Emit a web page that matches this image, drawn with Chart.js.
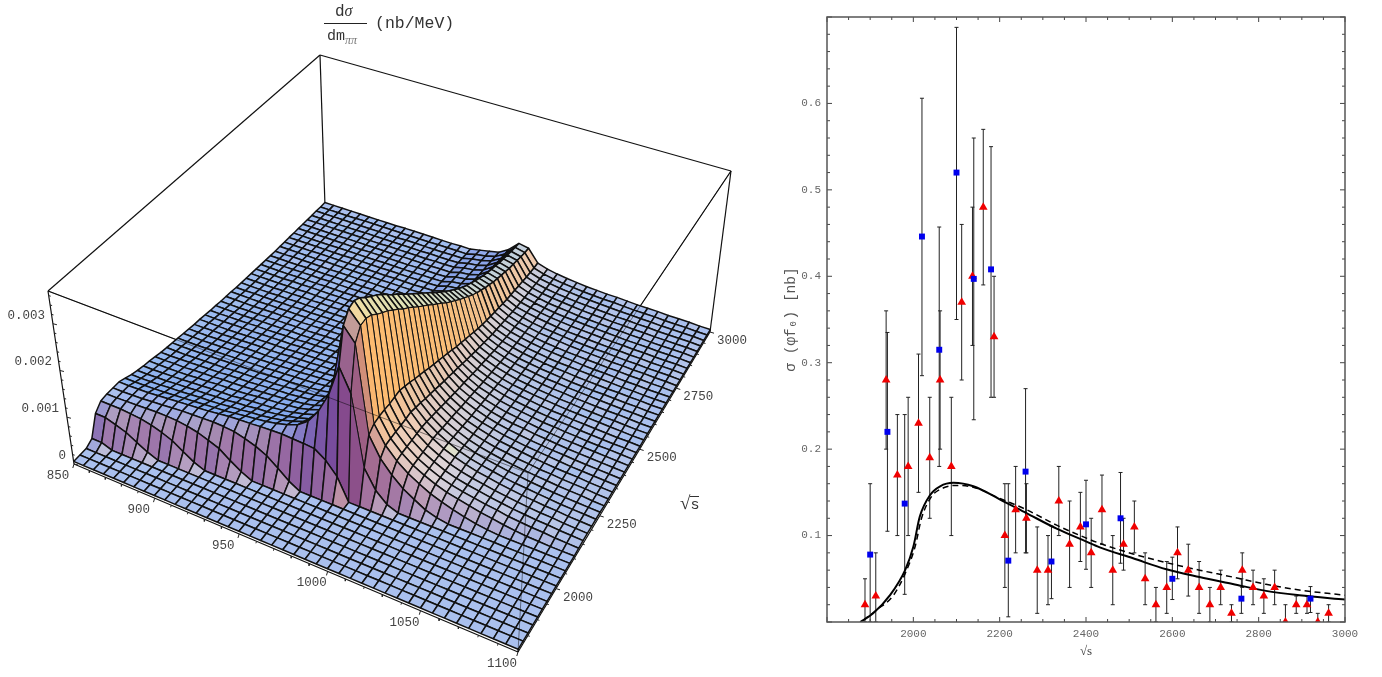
<!DOCTYPE html>
<html>
<head>
<meta charset="utf-8">
<title>dsigma surface and cross section</title>
<script src="https://cdn.jsdelivr.net/npm/chart.js@4"></script>
<style>
  html, body { margin: 0; padding: 0; background: #fff; }
  body { position: relative; width: 1382px; height: 677px; overflow: hidden; font-family: "Liberation Mono", monospace; }
  canvas { position: absolute; top: 0; }
  #surface { left: 0; }
  #cross { left: 760px; }
  .lbl { position: absolute; font-size: 12.5px; line-height: 14px; color: #444; white-space: nowrap; transform: translate(-50%, -50%); }
  .ttl { position: absolute; color: #333; white-space: nowrap; }
  #bar { position: absolute; left: 324px; top: 23px; width: 43px; height: 1px; background: #222; }
</style>
</head>
<body>
<canvas id="surface" width="746" height="677"></canvas>
<canvas id="cross" width="622" height="677"></canvas>
<div class="ttl" style="left:335px;top:2px;font-size:16px;">d<i style="font-family:'Liberation Serif'">σ</i></div>
<div id="bar"></div>
<div class="ttl" style="left:327px;top:28px;font-size:15px;">dm<sub style="font-size:12px;color:#777;font-family:'Liberation Serif';font-style:italic;">ππ</sub></div>
<div class="ttl" style="left:375px;top:14px;font-size:16.5px;">(nb/MeV)</div>
<div class="ttl" style="left:680px;top:492px;font-size:19px;font-family:'Liberation Serif';">√<span style="border-top:1px solid #333;font-family:'Liberation Mono';font-size:15px;">s</span></div>
<script>
// tick labels of the 3D box
const massTicks = [850, 900, 950, 1000, 1050, 1100];
const sqrtSTicks = [2000, 2250, 2500, 2750, 3000];
const zTicks = [0, 0.001, 0.002, 0.003];

// surface height, in units of 1e-5 nb/MeV
// one row per sqrt(s) = 1800, 1825, ... 3000, columns are m = 850, 856.25, ... 1100
const surfaceHeights = [
[0],[0],[0],
[8,8],
[49,49,42,34,21,9],
[63,63,63,61,59,54,47,38,23,9],
[65,65,66,67,68,69,69,68,65,60,52,43,26,11],
[65,65,66,67,69,71,73,75,76,77,78,77,75,69,61,50,32,13],
[65,65,66,67,69,71,73,75,77,79,82,85,87,88,90,91,92,91,90,88,72,46],
[60,60,61,62,63,65,67,69,71,73,75,78,81,84,87,92,98,107,124,155,200,270,220,69,30,9],
[55,55,56,57,59,60,62,64,65,67,70,72,75,77,81,85,92,100,118,150,222,345,315,126,84,58,38,24,11,4],
[51,51,52,53,55,56,58,59,61,62,65,67,70,72,75,79,85,92,108,138,222,368,340,136,98,74,56,43,31,23,16,10,5,2],
[48,48,49,50,51,53,54,56,57,58,61,63,65,67,70,74,80,87,100,134,223,372,342,138,99,76,59,47,37,29,24,19,14,11,7,4,2,1],
[46,46,46,47,48,50,51,53,54,55,57,60,62,64,67,70,76,84,96,131,219,365,336,138,99,76,59,47,37,30,25,21,17,14,10,8,6,5,3,2,1],
[43,43,44,44,46,47,48,50,51,52,54,56,58,60,63,66,71,80,92,127,211,352,324,137,99,76,59,47,37,30,25,21,17,14,11,9,7,6,4,3,2],
[40,40,41,42,43,44,45,47,48,49,51,53,55,56,59,62,67,76,89,123,205,341,314,138,99,76,59,47,37,30,25,21,17,14,11,9,7,6,4,3,2],
[38,38,38,39,40,41,42,44,45,46,48,49,51,53,55,58,63,73,86,119,199,331,305,139,100,76,60,47,38,31,25,21,17,14,11,9,7,6,4,3,2],
[36,36,36,37,38,39,40,41,42,43,45,47,48,50,52,55,59,70,83,115,191,319,293,134,96,74,58,46,36,29,24,20,16,13,11,9,7,5,4,3,2],
[34,34,34,35,36,37,38,39,40,41,43,44,46,47,49,52,56,67,80,110,184,306,282,129,93,71,55,44,35,28,23,19,15,13,10,8,6,5,4,3,2],
[32,32,32,33,34,35,36,37,38,39,40,42,43,45,47,49,53,64,76,105,175,292,269,123,88,68,53,42,33,27,22,18,15,12,10,8,6,5,4,2,1],
[30,30,30,31,32,33,34,35,35,36,38,39,40,42,44,46,50,62,73,101,169,281,259,118,85,65,51,40,32,26,21,18,14,12,9,8,6,5,4,2,1],
[28,28,29,29,30,31,32,33,33,34,36,37,38,40,41,44,47,59,70,96,161,268,247,113,81,62,49,38,31,25,20,17,14,11,9,7,6,5,3,2,1],
[27,27,27,27,28,29,30,31,32,32,34,35,36,37,39,41,44,56,66,92,153,255,235,107,77,59,46,36,29,24,19,16,13,11,9,7,5,4,3,2,1],
[25,25,25,26,27,27,28,29,30,30,32,33,34,35,37,39,42,53,63,87,146,243,224,102,73,56,44,35,28,22,18,15,12,10,8,7,5,4,3,2,1],
[23,23,24,24,25,26,26,27,28,28,30,31,32,33,34,36,39,51,60,83,139,231,213,97,70,53,42,33,26,21,17,15,12,10,8,6,5,4,3,2,1],
[22,22,22,22,23,24,24,25,26,26,27,28,29,30,32,34,36,48,57,79,131,219,201,92,66,51,40,31,25,20,17,14,11,9,7,6,5,4,3,2,1],
[20,20,20,21,21,22,23,23,24,24,25,26,27,28,29,31,33,46,54,75,124,207,190,87,63,48,37,30,23,19,16,13,10,9,7,6,4,3,3,2,1],
[19,19,19,19,20,21,21,22,22,23,24,25,26,26,28,29,31,43,51,70,117,195,179,82,59,45,35,28,22,18,15,12,10,8,7,5,4,3,2,2,1],
[18,18,18,18,19,19,20,20,21,21,22,23,24,25,26,27,29,40,47,66,109,182,167,76,55,42,33,26,21,17,14,11,9,8,6,5,4,3,2,2,1],
[16,16,17,17,17,18,18,19,19,20,21,21,22,23,24,25,27,38,44,62,103,171,157,72,52,40,31,24,19,16,13,11,9,7,6,5,4,3,2,1,1],
[15,15,15,15,16,16,17,17,18,18,19,20,20,21,22,23,25,35,42,58,96,160,147,67,48,37,29,23,18,15,12,10,8,7,5,4,3,3,2,1,1],
[14,14,14,14,15,15,16,16,17,17,18,18,19,20,20,22,23,33,39,54,89,149,137,63,45,35,27,21,17,14,11,9,8,6,5,4,3,3,2,1,1],
[13,13,13,13,14,14,15,15,15,16,16,17,18,18,19,20,22,31,36,50,83,139,128,58,42,32,25,20,16,13,10,9,7,6,5,4,3,2,2,1,1],
[12,12,12,12,13,13,14,14,14,15,15,16,16,17,18,19,20,28,34,46,77,129,119,54,39,30,23,18,15,12,10,8,6,5,4,4,3,2,2,1,1],
[11,11,11,11,12,12,12,13,13,13,14,14,15,15,16,17,18,26,31,43,72,120,110,50,36,28,22,17,14,11,9,8,6,5,4,3,3,2,2,1,1],
[10,10,10,10,11,11,11,12,12,12,13,13,14,14,15,16,17,25,29,40,67,112,103,47,34,26,20,16,13,10,8,7,6,5,4,3,2,2,1,1,1],
[9,9,9,9,10,10,10,11,11,11,11,12,12,13,13,14,15,23,27,38,63,105,97,44,32,24,19,15,12,10,8,7,5,4,4,3,2,2,1,1,1],
[8,8,9,9,9,9,9,10,10,10,11,11,11,12,12,13,14,22,25,35,59,98,90,41,30,23,18,14,11,9,7,6,5,4,3,3,2,2,1,1,0],
[8,8,8,8,8,9,9,9,9,9,10,10,11,11,11,12,13,20,24,33,55,92,85,39,28,21,17,13,11,9,7,6,5,4,3,3,2,2,1,1,0],
[7,7,7,7,8,8,8,8,8,9,9,9,10,10,10,11,12,19,22,31,52,86,79,36,26,20,15,12,10,8,6,5,4,4,3,2,2,1,1,1,0],
[7,7,7,7,7,7,7,8,8,8,8,9,9,9,10,10,11,18,21,29,49,81,75,34,24,19,15,12,9,7,6,5,4,3,3,2,2,1,1,1,0],
[6,6,6,6,6,7,7,7,7,7,8,8,8,8,9,9,10,17,20,28,46,77,71,32,23,18,14,11,9,7,6,5,4,3,3,2,2,1,1,1,0],
[6,6,6,6,6,6,6,6,7,7,7,7,7,8,8,8,9,16,19,26,44,73,67,31,22,17,13,10,8,7,6,5,4,3,2,2,2,1,1,1,0],
[5,5,5,5,5,6,6,6,6,6,6,7,7,7,7,8,8,15,18,25,41,69,63,29,21,16,12,10,8,6,5,4,3,3,2,2,1,1,1,1,0],
[5,5,5,5,5,5,5,5,5,6,6,6,6,6,7,7,8,14,17,24,40,66,61,28,20,15,12,10,8,6,5,4,3,3,2,2,1,1,1,1,0],
[4,4,4,4,4,4,5,5,5,5,5,5,5,6,6,6,7,13,16,23,38,63,58,26,19,14,11,9,7,6,5,4,3,3,2,2,1,1,1,1,0],
[4,4,4,4,4,4,4,4,4,4,5,5,5,5,5,6,6,12,16,22,36,60,55,25,18,14,11,9,7,6,5,4,3,3,2,2,1,1,1,1,0],
[3,3,3,3,3,4,4,4,4,4,4,4,4,5,5,5,5,11,15,21,35,58,53,24,17,13,10,8,6,5,4,4,3,2,2,2,1,1,1,0,0],
[3,3,3,3,3,3,3,3,3,4,4,4,4,4,4,5,5,10,15,20,34,56,52,24,17,13,10,8,6,5,4,4,3,2,2,2,1,1,1,0,0]
];

// right panel: triangles
const redX = [1888,1913,1937,1963,1988,2012,2038,2062,2088,2112,2137,2162,2187,2212,2237,2262,2287,2312,2337,2362,2387,2412,2437,2462,2487,2512,2537,2562,2587,2612,2637,2662,2687,2712,2737,2762,2787,2812,2837,2862,2887,2912,2937,2962];
const redY = [.02,.03,.28,.17,.18,.23,.19,.28,.18,.37,.40,.48,.33,.10,.13,.12,.06,.06,.14,.09,.11,.08,.13,.06,.09,.11,.05,.02,.04,.08,.06,.04,.02,.04,.01,.06,.04,.03,.04,0,.02,.02,0,.01];
const redLo = [0,0,.20,.10,.10,.15,.12,.20,.10,.28,.32,.39,.26,.04,.08,.08,.01,.02,.10,.04,.07,.04,.09,.02,.06,.08,.02,0,.01,.05,.03,.01,0,.02,0,.04,.02,.01,.02,0,.01,.01,0,0];
const redHi = [.05,.08,.36,.24,.26,.31,.26,.36,.26,.46,.48,.57,.40,.16,.18,.16,.11,.10,.18,.14,.15,.12,.17,.10,.12,.14,.08,.04,.07,.11,.09,.07,.04,.06,.02,.08,.06,.05,.06,.02,.03,.03,.01,.02];
// right panel: squares
const blueX = [1900,1940,1980,2020,2060,2100,2140,2180,2220,2260,2320,2400,2480,2600,2760,2920];
const blueY = [.078,.22,.137,.446,.315,.52,.397,.408,.071,.174,.07,.113,.12,.05,.027,.027];
const blueLo = [0,.105,.032,.285,.18,.35,.234,.26,.006,.08,.027,.061,.068,.026,.01,.011];
const blueHi = [.16,.335,.24,.606,.457,.688,.56,.55,.16,.27,.111,.164,.173,.075,.05,.041];
// right panel: curves
const solidX = [1877,1907,1946,1981,2000,2015,2039,2062,2093,2139,2200,2262,2332,2401,2432,2509,2586,2663,2740,2817,2894,3000];
const solidY = [0,.01,.031,.06,.087,.122,.147,.157,.161,.157,.142,.126,.108,.093,.0864,.0737,.061,.052,.044,.036,.031,.026];
const dashX = [1884,1915,1954,1981,2004,2019,2042,2069,2100,2139,2200,2262,2332,2401,2432,2509,2586,2663,2740,2817,2894,3000];
const dashY = [.002,.014,.031,.056,.087,.12,.145,.155,.158,.156,.143,.13,.112,.097,.091,.0787,.0687,.06,.052,.0436,.037,.031];

// corners of the box in the picture: front left, front right, back right, back left
const boxBase = [[74,464],[518,652],[710,332],[325,206]];
const boxTop = [[48,291],[528,473],[731,171],[320,55]];
const sMin = 1800, sMax = 3000, mMin = 850, mMax = 1100, zTop = 370;

function homography(q) {
    const [A, B, C, D] = q;
    const dx1 = B[0]-C[0], dx2 = D[0]-C[0], sx = A[0]-B[0]+C[0]-D[0];
    const dy1 = B[1]-C[1], dy2 = D[1]-C[1], sy = A[1]-B[1]+C[1]-D[1];
    const den = dx1*dy2 - dx2*dy1;
    const g = (sx*dy2 - dx2*sy)/den, h = (dx1*sy - sx*dy1)/den;
    const a = B[0]-A[0]+g*B[0], b = D[0]-A[0]+h*D[0];
    const d = B[1]-A[1]+g*B[1], e = D[1]-A[1]+h*D[1];
    return (u, v) => {
        const w = g*u + h*v + 1;
        return [(a*u + b*v + A[0])/w, (d*u + e*v + A[1])/w];
    };
}
const baseAt = homography(boxBase), topAt = homography(boxTop);

function project(u, v, w) {
    const p = baseAt(u, v), t = topAt(u, v);
    return {x: p[0] + w*(t[0]-p[0]), y: p[1] + w*(t[1]-p[1])};
}

const cols = 41, rows = surfaceHeights.length;
const heightAt = (i, j) => surfaceHeights[j][i] || 0;
const surfacePoint = (i, j) => project(i/(cols-1), j/(rows-1), 0.015 + 0.985*heightAt(i, j)/zTop);

// Colour of a mesh cell from which way it faces
const flatCol = [170,192,238], downM = [40,60,210], frontCol = [120,60,140], backCol = [50,150,255];
const slopeRamp = [[0,flatCol],[0.35,[222,212,214]],[0.55,[238,206,186]],[0.85,[255,190,115]],[1,[255,185,105]]];
const ridgeRamp = [[0,flatCol],[0.35,[235,228,200]],[0.55,[250,238,172]],[0.85,[255,190,115]],[1,[255,185,105]]];
function rampColor(ramp, t) {
    for (let n = 1; n < ramp.length; n++) {
        if (t <= ramp[n][0]) {
            const a = ramp[n-1], b = ramp[n], f = (t-a[0])/(b[0]-a[0]);
            return [0,1,2].map(c => a[1][c] + f*(b[1][c]-a[1][c]));
        }
    }
    return ramp[ramp.length-1][1];
}
function cellSlopes(i, j) {
    const k = 0.25/zTop;
    return {
        du: (heightAt(i+1,j)+heightAt(i+1,j+1)-heightAt(i,j)-heightAt(i,j+1))/2*k*(cols-1),
        dv: (heightAt(i,j+1)+heightAt(i+1,j+1)-heightAt(i,j)-heightAt(i+1,j))/2*k*(rows-1)
    };
}
function cellColor(i, j) {
    const {du, dv} = cellSlopes(i, j);
    let wy = dv > 0 ? Math.pow(dv, 1.1) : Math.pow(-dv, 0.7);
    let base, wx = 0;
    if (du < 0) {
        // falling with mass faces the right, the top of the ridge is paler
        const onRidge = heightAt(i+1, j) > 0.8*heightAt(i, j) && heightAt(i, j) > 40;
        base = rampColor(onRidge ? ridgeRamp : slopeRamp, -du/(0.5-du));
        if (dv < 0) wy /= 1 - 4*du;   // the blue back light barely reaches the right side
    } else {
        base = flatCol;
        wx = Math.pow(du, 0.8);
    }
    const cy = dv > 0 ? frontCol : backCol;
    const sum = 1 + wx + wy;
    const c = [0,1,2].map(n => Math.round((base[n] + wx*downM[n] + wy*cy[n])/sum));
    return `rgb(${c[0]},${c[1]},${c[2]})`;
}

function lineSet(points, width, color) {
    return {data: points, showLine: true, fill: false, borderColor: color, borderWidth: width, pointRadius: 0};
}

const A = [0,0], B = [1,0], C = [1,1], D = [0,1];
const edge = (p, q, wp, wq) => {
    const a = project(p[0], p[1], wp), b = project(q[0], q[1], wq);
    return [a, b];
};

const paint = [];
// box behind the surface
[[A,A,0,1],[D,D,0,1],[C,C,0,1],[B,B,0,1],[A,B,0,0],[B,C,0,0],[A,D,1,1],[D,C,1,1],[A,B,1,1],[B,C,1,1]].forEach(e => {
    paint.push(lineSet(edge(e[0], e[1], e[2], e[3]), 1.2, '#111'));
});
// mesh, far cells first; lines are thinner on the steep wall
for (let j = rows-2; j >= 0; j--) {
    for (let i = 0; i < cols-1; i++) {
        const a = surfacePoint(i,j), b = surfacePoint(i+1,j), c = surfacePoint(i+1,j+1), d = surfacePoint(i,j+1);
        paint.push({
            data: [a, b, c, d, a], showLine: true, fill: 'shape',
            backgroundColor: cellColor(i, j), borderColor: '#111',
            borderWidth: cellSlopes(i, j).du < -1.5 ? 1 : 1.5, pointRadius: 0
        });
    }
}
// front edges of the box show through the surface as thin lines
[[A,B,1,1],[B,C,1,1],[B,B,0,1]].forEach(e => {
    paint.push(lineSet(edge(e[0], e[1], e[2], e[3]), 0.8, 'rgba(0,0,0,0.6)'));
});
// small marks on the axes
for (let m = mMin; m <= mMax; m += 10) {
    const u = (m-mMin)/(mMax-mMin), p = project(u, 0, 0), len = m % 50 === 0 ? 4 : 2;
    paint.push(lineSet([p, {x: p.x-len*0.3, y: p.y+len}], 1, '#222'));
}
for (let s = 1850; s <= sMax; s += 50) {
    const v = (s-sMin)/(sMax-sMin), p = project(1, v, 0), len = s % 250 === 0 ? 4 : 2;
    paint.push(lineSet([p, {x: p.x+len, y: p.y+len*0.3}], 1, '#222'));
}
for (let n = 0; n <= 18; n++) {
    const w = n*20/zTop, p = project(0, 0, w), len = n % 5 === 0 ? 4 : 2;
    paint.push(lineSet([p, {x: p.x+len, y: p.y+len*0.25}], 1, '#222'));
}

new Chart(document.getElementById('surface'), {
    type: 'scatter',
    data: {datasets: paint.reverse()},
    options: {
        responsive: false,
        animation: false,
        events: [],
        layout: {padding: 0},
        plugins: {legend: {display: false}, tooltip: {enabled: false}},
        elements: {line: {tension: 0, borderJoinStyle: 'round'}},
        scales: {
            x: {display: false, min: 0, max: 746},
            y: {display: false, min: 0, max: 677, reverse: true}
        }
    }
});

function addLabel(text, x, y) {
    const el = document.createElement('div');
    el.className = 'lbl';
    el.textContent = text;
    el.style.left = x + 'px';
    el.style.top = y + 'px';
    document.body.appendChild(el);
    return el;
}
massTicks.forEach(m => {
    const p = project((m-mMin)/(mMax-mMin), 0, 0);
    addLabel(String(m), p.x-16, p.y+12);
});
sqrtSTicks.forEach(s => {
    const p = project(1, (s-sMin)/(sMax-sMin), 0);
    addLabel(String(s), p.x+22, p.y+9);
});
zTicks.forEach(z => {
    const p = project(0, 0, z*1e5/zTop);
    const el = addLabel(z === 0 ? '0' : z.toFixed(3), p.x-8, p.y-8);
    el.style.transform = 'translate(-100%, -50%)';
});

// Error bars: low and high point with a line cap, a null between bars
function errorBars(xs, los, his) {
    const pts = [];
    xs.forEach((x, k) => {
        pts.push({x: x, y: los[k]}, {x: x, y: his[k]}, {x: x, y: null});
    });
    return pts;
}
const toPoints = (xs, ys) => xs.map((x, k) => ({x: x, y: ys[k]}));

// Frame and inward ticks on all four sides
const framePlugin = {
    id: 'frame',
    afterDatasetsDraw(chart) {
        const {ctx, chartArea: a, scales: {x, y}} = chart;
        ctx.save();
        ctx.strokeStyle = '#444';
        ctx.lineWidth = 1;
        ctx.beginPath();
        for (let v = 1800; v <= 3000; v += 50) {
            const px = x.getPixelForValue(v), len = v % 200 === 0 ? 5 : 3;
            ctx.moveTo(px, a.bottom); ctx.lineTo(px, a.bottom-len);
            ctx.moveTo(px, a.top); ctx.lineTo(px, a.top+len);
        }
        for (let n = 0; n <= 35; n++) {
            const py = y.getPixelForValue(n*0.02), len = n % 5 === 0 ? 5 : 3;
            ctx.moveTo(a.left, py); ctx.lineTo(a.left+len, py);
            ctx.moveTo(a.right, py); ctx.lineTo(a.right-len, py);
        }
        ctx.stroke();
        ctx.strokeStyle = '#555';
        ctx.lineWidth = 1.5;
        ctx.strokeRect(a.left, a.top, a.right-a.left, a.bottom-a.top);
        ctx.restore();
    }
};

const capStyle = {showLine: true, borderColor: '#222', borderWidth: 1, pointStyle: 'line', pointRadius: 2, pointBorderColor: '#222', pointBorderWidth: 1, spanGaps: false};

new Chart(document.getElementById('cross'), {
    type: 'scatter',
    data: {
        datasets: [
            {data: toPoints(blueX, blueY), pointStyle: 'rect', pointRadius: 4.2, backgroundColor: '#0000ee', borderColor: '#0000ee', pointBorderWidth: 0},
            {data: toPoints(redX, redY), pointStyle: 'triangle', pointRadius: 5, backgroundColor: '#f00000', borderColor: '#f00000', pointBorderWidth: 0},
            {data: toPoints(solidX, solidY), showLine: true, cubicInterpolationMode: 'monotone', borderColor: '#000', borderWidth: 2, pointRadius: 0},
            {data: toPoints(dashX, dashY), showLine: true, cubicInterpolationMode: 'monotone', borderColor: '#000', borderWidth: 1.5, borderDash: [6, 4], pointRadius: 0},
            Object.assign({data: errorBars(blueX, blueLo, blueHi)}, capStyle),
            Object.assign({data: errorBars(redX, redLo, redHi)}, capStyle)
        ]
    },
    options: {
        responsive: false,
        animation: false,
        events: [],
        layout: {padding: {top: 17, right: 37, left: 0, bottom: 18}},
        plugins: {legend: {display: false}, tooltip: {enabled: false}},
        scales: {
            x: {
                min: 1800, max: 3000,
                afterFit: s => { s.height = 37; },
                grid: {display: false},
                border: {display: false},
                ticks: {
                    stepSize: 200, maxRotation: 0, padding: -3, color: '#666',
                    font: {family: 'Liberation Mono', size: 11},
                    callback: v => v === 1800 ? '' : String(v)
                },
                title: {display: true, text: '√s', color: '#444', font: {family: 'Liberation Serif', size: 13}, padding: {top: 0, bottom: 0}}
            },
            y: {
                min: 0, max: 0.7,
                afterFit: s => { s.width = 67; },
                grid: {display: false},
                border: {display: false},
                ticks: {
                    stepSize: 0.1, padding: -2, color: '#666',
                    font: {family: 'Liberation Mono', size: 11},
                    callback: v => (v < 0.05 || v > 0.65) ? '' : v.toFixed(1)
                },
                title: {display: true, text: 'σ (φf₀) [nb]', color: '#555', font: {family: 'Liberation Mono', size: 14.5}, padding: {top: 22, bottom: 0}}
            }
        }
    },
    plugins: [framePlugin]
});
</script>
</body>
</html>
